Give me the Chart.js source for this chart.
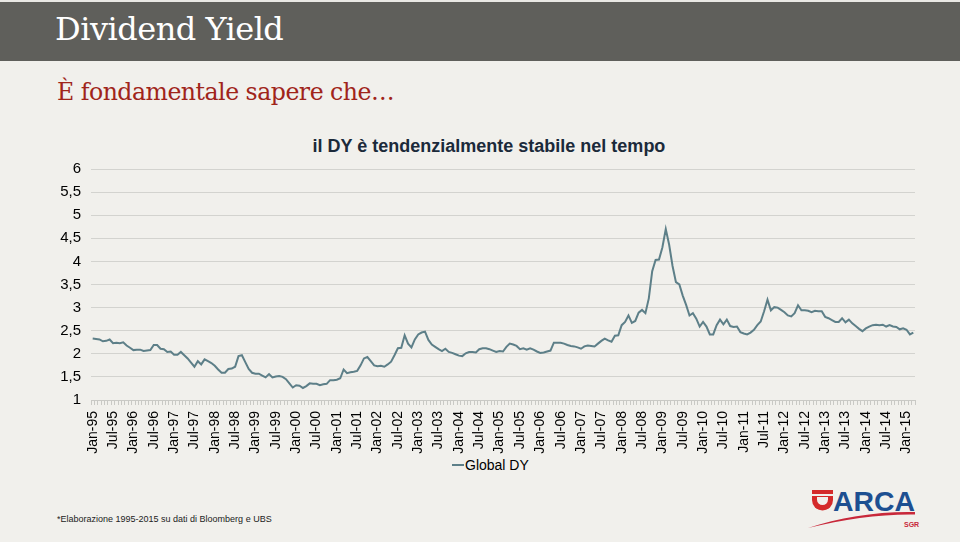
<!DOCTYPE html>
<html>
<head>
<meta charset="utf-8">
<script src="https://cdn.jsdelivr.net/npm/chart.js@4"></script>
<style>
  html, body { margin:0; padding:0; width:960px; height:546px; overflow:hidden; background:#ffffff; }
  #slide { position:absolute; left:0; top:0; width:960px; height:542px; background:#f1f0ec; }
  #topline { position:absolute; left:0; top:0; width:960px; height:2px; background:#e9e8e4; }
  #header { position:absolute; left:0; top:2px; width:960px; height:59px; background:#5f5f5b; }
  #h1 { position:absolute; left:55px; top:10px; font-family:"DejaVu Serif", serif; font-size:32px; color:#ffffff; white-space:nowrap; letter-spacing:-0.5px; }
  #h2 { position:absolute; left:57px; top:78px; font-family:"DejaVu Serif", serif; font-size:23.6px; color:#a0241a; white-space:nowrap; letter-spacing:-0.5px; }
  #ctitle { position:absolute; left:289px; width:400px; top:136px; text-align:center; font-family:"Liberation Sans", Arial, sans-serif; font-weight:bold; font-size:18px; color:#1b2a3a; white-space:nowrap; }
  #legend { position:absolute; left:452px; top:456px; height:18px; font-family:"Liberation Sans", Arial, sans-serif; font-size:14px; color:#000; white-space:nowrap; line-height:18px; }
  #legend .sw { display:inline-block; width:12px; height:2px; vertical-align:middle; margin-right:1px; position:relative; top:-1px; }
  #note { position:absolute; left:57px; top:514px; font-family:"Liberation Sans", Arial, sans-serif; font-size:9px; color:#222; white-space:nowrap; }
  #logo { position:absolute; left:800px; top:484px; }
  canvas { position:absolute; left:0; top:0; }
</style>
</head>
<body>
<div id="slide"></div>
<div id="topline"></div>
<div id="header"></div>
<div id="h1">Dividend Yield</div>
<div id="h2">È fondamentale sapere che…</div>
<div id="ctitle">il DY è tendenzialmente stabile nel tempo</div>
<div id="legend"></div>
<div id="note">*Elaborazione 1995-2015 su dati di Bloomberg e UBS</div>
<svg id="logo" width="125" height="50" viewBox="0 0 125 50">
  <rect x="12" y="6" width="21" height="4" fill="#d42a2a"/>
  <path d="M12 12 H33 V16 A10.5 10.5 0 0 1 12 16 Z" fill="#d42a2a"/>
  <path d="M17 13 H28 V15.5 A5.5 5.5 0 0 1 17 15.5 Z" fill="#f1f0ec"/>
  <text x="33" y="27" font-family="Liberation Sans, Arial, sans-serif" font-weight="bold" font-size="28" fill="#1d4f91" textLength="82" lengthAdjust="spacingAndGlyphs">ARCA</text>
  <path d="M8 44 C40 33, 80 27, 115 28 L115 30.5 C80 30, 45 35, 8 44 Z" fill="#c8283a"/>
  <text x="104" y="43" font-family="Liberation Sans, Arial, sans-serif" font-weight="bold" font-size="7" fill="#c8283a">SGR</text>
</svg>
<canvas id="c" width="960" height="546"></canvas>
<script>
// ---- data (monthly Global Dividend Yield, Jan-95 .. Mar-15) ----
const monthNames = ['Jan','Feb','Mar','Apr','May','Jun','Jul','Aug','Sep','Oct','Nov','Dec'];
const firstYear = 1995;
const lastYear = 2015;
const lastYearMonths = 3;

const dy1995_1999 = [
  2.33,2.32,2.31,2.27,2.28,2.31,2.23,2.24,2.23,2.25,2.18,2.13,
  2.08,2.09,2.09,2.06,2.07,2.08,2.19,2.19,2.11,2.10,2.04,2.05,
  1.98,1.98,2.04,1.97,1.90,1.81,1.72,1.84,1.77,1.88,1.84,1.80,
  1.74,1.66,1.59,1.59,1.67,1.68,1.72,1.95,1.97,1.82,1.67,1.59,
  1.57,1.57,1.53,1.49,1.56,1.49,1.51,1.52,1.50,1.45,1.36,1.27
];
const dy2000_2004 = [
  1.32,1.31,1.26,1.30,1.36,1.35,1.35,1.32,1.34,1.35,1.43,1.43,
  1.44,1.47,1.66,1.58,1.60,1.61,1.63,1.75,1.90,1.93,1.84,1.75,
  1.73,1.74,1.72,1.77,1.83,1.97,2.12,2.13,2.40,2.22,2.14,2.31,
  2.42,2.46,2.48,2.30,2.20,2.15,2.10,2.06,2.11,2.04,2.02,1.99,
  1.96,1.95,2.01,2.04,2.04,2.03,2.10,2.12,2.12,2.10,2.07,2.04
];
const dy2005_2009 = [
  2.06,2.05,2.15,2.22,2.20,2.17,2.10,2.12,2.09,2.12,2.09,2.05,
  2.02,2.03,2.05,2.07,2.24,2.24,2.24,2.22,2.19,2.17,2.16,2.14,
  2.11,2.16,2.18,2.17,2.16,2.22,2.28,2.33,2.29,2.26,2.39,2.40,
  2.62,2.69,2.83,2.67,2.71,2.89,2.95,2.88,3.20,3.79,4.03,4.04,
  4.30,4.70,4.36,3.90,3.55,3.50,3.26,3.06,2.83,2.88,2.76,2.59
];
const dy2010_2014 = [
  2.69,2.59,2.42,2.42,2.62,2.74,2.64,2.74,2.60,2.58,2.59,2.47,
  2.44,2.42,2.46,2.52,2.62,2.70,2.92,3.17,2.94,3.01,3.00,2.95,
  2.90,2.83,2.81,2.88,3.05,2.94,2.94,2.93,2.90,2.93,2.92,2.92,
  2.80,2.77,2.73,2.69,2.69,2.77,2.68,2.74,2.66,2.60,2.54,2.49,
  2.55,2.59,2.62,2.63,2.62,2.63,2.59,2.62,2.59,2.58,2.53,2.55
];
const dy2015 = [2.52,2.42,2.46];

const seriesName = 'Global DY';
const yTickValues = [1,1.5,2,2.5,3,3.5,4,4.5,5,5.5,6];

// ---- build labels & series ----
const labels = [];
for (let y = firstYear; y <= lastYear; y++) {
  const n = (y === lastYear) ? lastYearMonths : 12;
  for (let m = 0; m < n; m++) labels.push(monthNames[m] + '-' + String(y).slice(2));
}
const globalDY = [].concat(dy1995_1999, dy2000_2004, dy2005_2009, dy2010_2014, dy2015);

const lineColor = '#5d7f88';
const FONT = '"Liberation Sans", Arial, sans-serif';

const chart = new Chart(document.getElementById('c'), {
  type: 'line',
  data: {
    labels: labels,
    datasets: [{
      label: seriesName,
      data: globalDY,
      borderColor: lineColor,
      backgroundColor: lineColor,
      borderWidth: 2,
      pointRadius: 0,
      tension: 0,
      fill: false
    }]
  },
  options: {
    responsive: false,
    animation: false,
    devicePixelRatio: 1,
    layout: { padding: { top: 169, right: 45, bottom: 90, left: 0 } },
    plugins: {
      title: { display: false },
      legend: { display: false },
      tooltip: { enabled: false }
    },
    scales: {
      x: {
        type: 'category',
        offset: true,
        grid: { display: true, drawOnChartArea: false, drawTicks: true, tickLength: 5, color: '#c9c9c5', offset: true },
        border: { display: true, color: '#c9c9c5' },
        ticks: {
          autoSkip: false,
          maxRotation: 90,
          minRotation: 90,
          padding: 6,
          color: '#000',
          font: { family: FONT, size: 14 },
          callback: function(v, i) {
            const l = labels[i];
            return (l.startsWith('Jan') || l.startsWith('Jul')) ? l : '';
          }
        },
        afterFit: function(s) { s.height = 56; }
      },
      y: {
        min: 1,
        max: 6,
        afterBuildTicks: function(s) { s.ticks = yTickValues.map(v => ({ value: v })); },
        grid: { color: '#d3d3cf', lineWidth: 1, drawTicks: false },
        border: { display: false },
        ticks: {
          padding: 10,
          color: '#000',
          font: { family: FONT, size: 15 },
          callback: function(v) { return String(v).replace('.', ','); }
        },
        afterFit: function(s) { s.width = 91; }
      }
    }
  }
});

// HTML legend built from the chart's dataset
const lg = document.getElementById('legend');
chart.data.datasets.forEach(ds => {
  const sw = document.createElement('span');
  sw.className = 'sw';
  sw.style.background = ds.borderColor;
  lg.appendChild(sw);
  lg.appendChild(document.createTextNode(ds.label));
});
</script>
</body>
</html>
